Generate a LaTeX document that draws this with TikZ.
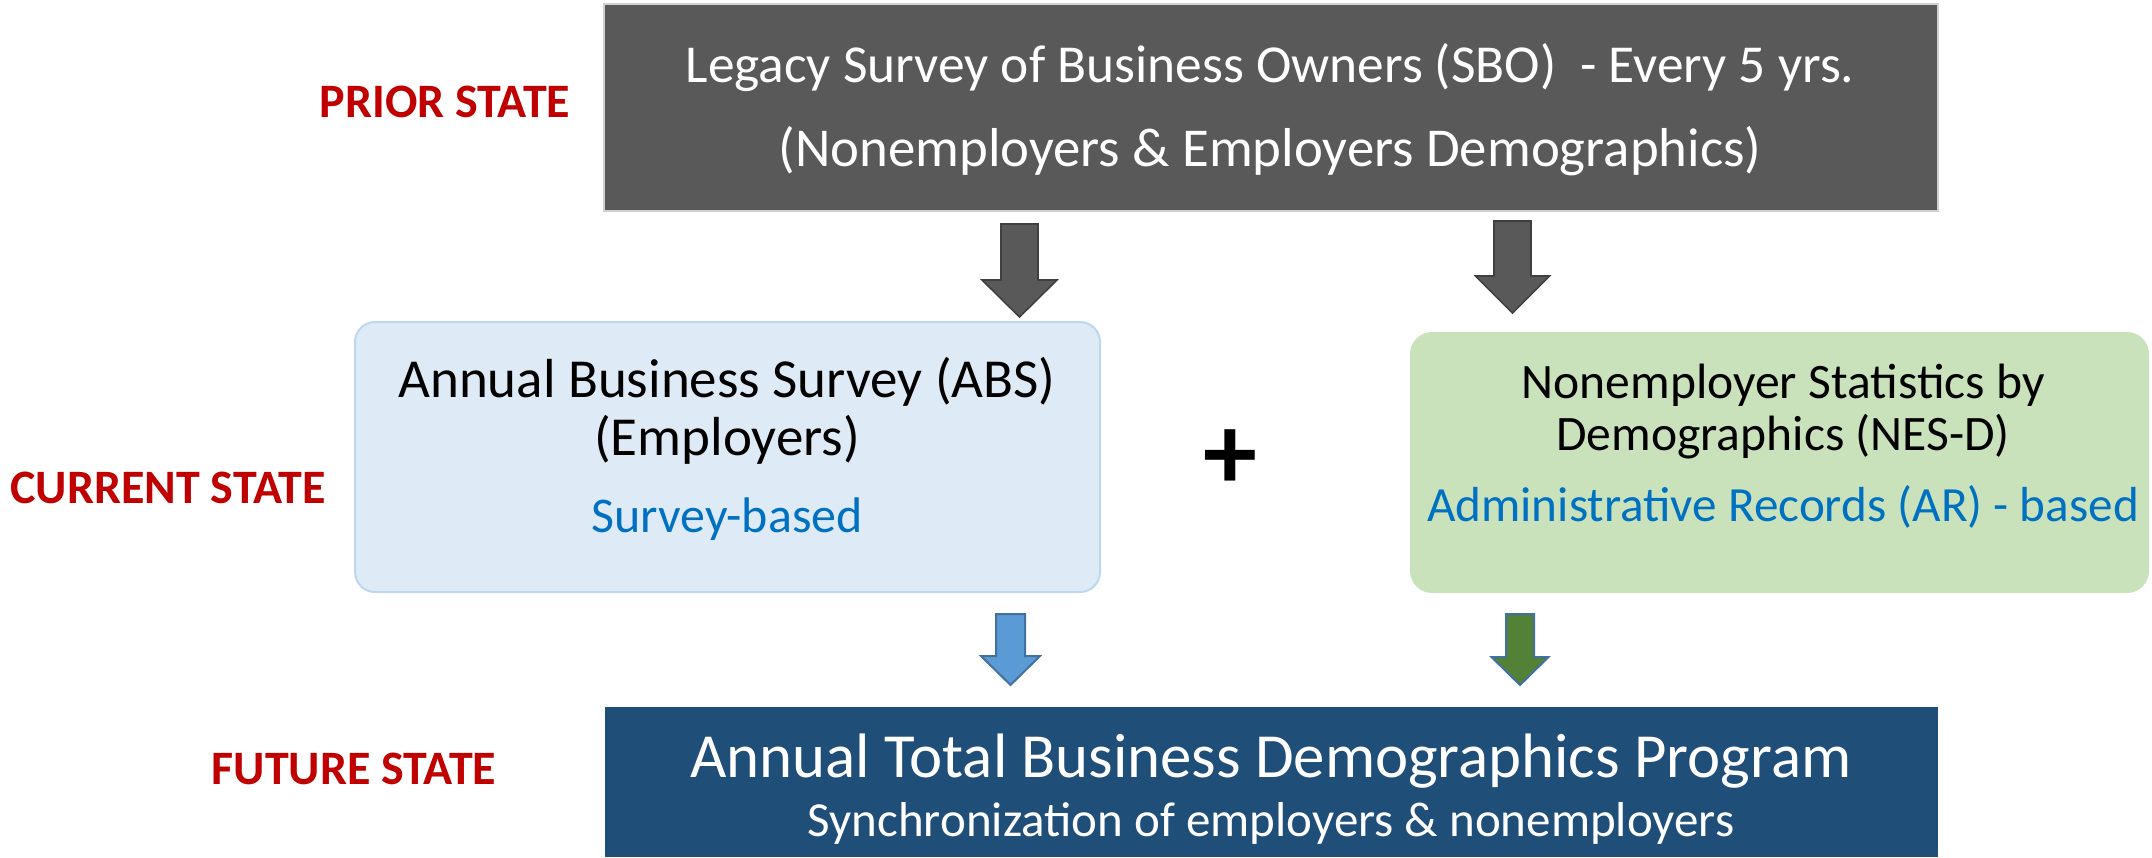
\documentclass[tikz,border=0pt]{standalone}
\usepackage{fontspec}
\setmainfont{Carlito}
\definecolor{darkgrey}{HTML}{595959}
\definecolor{darkedge}{HTML}{404040}
\definecolor{topedge}{HTML}{D0D0D0}
\definecolor{navy}{HTML}{1F4E79}
\definecolor{absfill}{HTML}{DEEBF7}
\definecolor{absedge}{HTML}{BDD7EE}
\definecolor{nesfill}{HTML}{C9E2BC}
\definecolor{recblue}{HTML}{0070C0}
\definecolor{statered}{HTML}{C00000}
\definecolor{arrblue}{HTML}{5B9BD5}
\definecolor{arrgreen}{HTML}{538135}
\definecolor{arredge}{HTML}{41719C}
\tikzset{
  statelabel/.style={text=statered, font=\fontsize{24}{28}\selectfont\bfseries, anchor=base, inner sep=0pt},
  txt/.style={anchor=base, inner sep=0pt},
  darkarrow/.style={fill=darkgrey, draw=darkedge, line width=0.8pt},
  bluearrow/.style={fill=arrblue, draw=arredge, line width=1pt},
  greenarrow/.style={fill=arrgreen, draw=arredge, line width=1pt},
}
% block arrow: centre x, top, head start, tip, shaft half width, head half width, style
\newcommand{\blockarrow}[7]{%
  \draw[#7] (#1-#5,#2) -- (#1+#5,#2) -- (#1+#5,#3) -- (#1+#6,#3) -- (#1,#4)
    -- (#1-#6,#3) -- (#1-#5,#3) -- cycle;}
\begin{document}
\begin{tikzpicture}[x=0.5pt,y=-0.5pt]
\useasboundingbox (0,0) rectangle (2152,857);
% boxes
\node[draw=topedge, fill=darkgrey, line width=0.8pt, minimum width=667pt, minimum height=103.5pt, inner sep=0pt] (prior box) at (1271,107.5) {};
\node[draw=absedge, fill=absfill, line width=1pt, rounded corners=10pt, minimum width=372.5pt, minimum height=135pt, inner sep=0pt] (abs box) at (727.5,457) {};
\node[fill=nesfill, rounded corners=11pt, minimum width=369.5pt, minimum height=130.5pt, inner sep=0pt] (nes box) at (1779.5,462.5) {};
\node[fill=navy, minimum width=666.5pt, minimum height=75pt, inner sep=0pt] (future box) at (1271.5,782) {};
% state labels
\node[statelabel] (prior label) at (445,117) {PRIOR STATE};
\node[statelabel] (current label) at (168,503) {CURRENT STATE};
\node[statelabel] (future label) at (354,784) {FUTURE STATE};
% top box text
\node[txt, text=white, font=\fontsize{26.7}{30}\selectfont] (sbo1) at (1270,82) {Legacy Survey of Business Owners (SBO)\ \ - Every 5 yrs.};
\node[txt, text=white, font=\fontsize{27.4}{30}\selectfont] (sbo2) at (1270,166) {(Nonemployers \& Employers Demographics)};
% ABS text
\node[txt, font=\fontsize{27.5}{30}\selectfont] (abs1) at (727,397) {Annual Business Survey (ABS)};
\node[txt, font=\fontsize{27.5}{30}\selectfont] (abs2) at (727,455) {(Employers)};
\node[txt, text=recblue, font=\fontsize{25}{30}\selectfont] (abs3) at (727,532) {Survey-based};
% NES text
\node[txt, font=\fontsize{24.8}{28}\selectfont] (nes1) at (1783,398) {Nonemployer Statistics by};
\node[txt, font=\fontsize{24.8}{28}\selectfont] (nes2) at (1783,450) {Demographics (NES-D)};
\node[txt, text=recblue, font=\fontsize{24.6}{28}\selectfont] (nes3) at (1783,521) {Administrative Records (AR) - based};
% plus
\node[font=\fontsize{54}{54}\selectfont\bfseries, inner sep=0pt] (plus) at (1230,460) {+};
% bottom text
\node[txt, text=white, font=\fontsize{31.4}{34}\selectfont] (tbd1) at (1271,777) {Annual Total Business Demographics Program};
\node[txt, text=white, font=\fontsize{24.5}{28}\selectfont] (tbd2) at (1271,836) {Synchronization of employers \& nonemployers};
% arrows
\blockarrow{1019.5}{224}{280}{317}{18.5}{37.5}{darkarrow}
\blockarrow{1512.5}{221}{276}{313}{18.5}{37}{darkarrow}
\blockarrow{1010.5}{614}{656}{685}{14.5}{29.5}{bluearrow}
\blockarrow{1520}{614}{657}{685}{14}{28.5}{greenarrow}
\end{tikzpicture}
\end{document}
